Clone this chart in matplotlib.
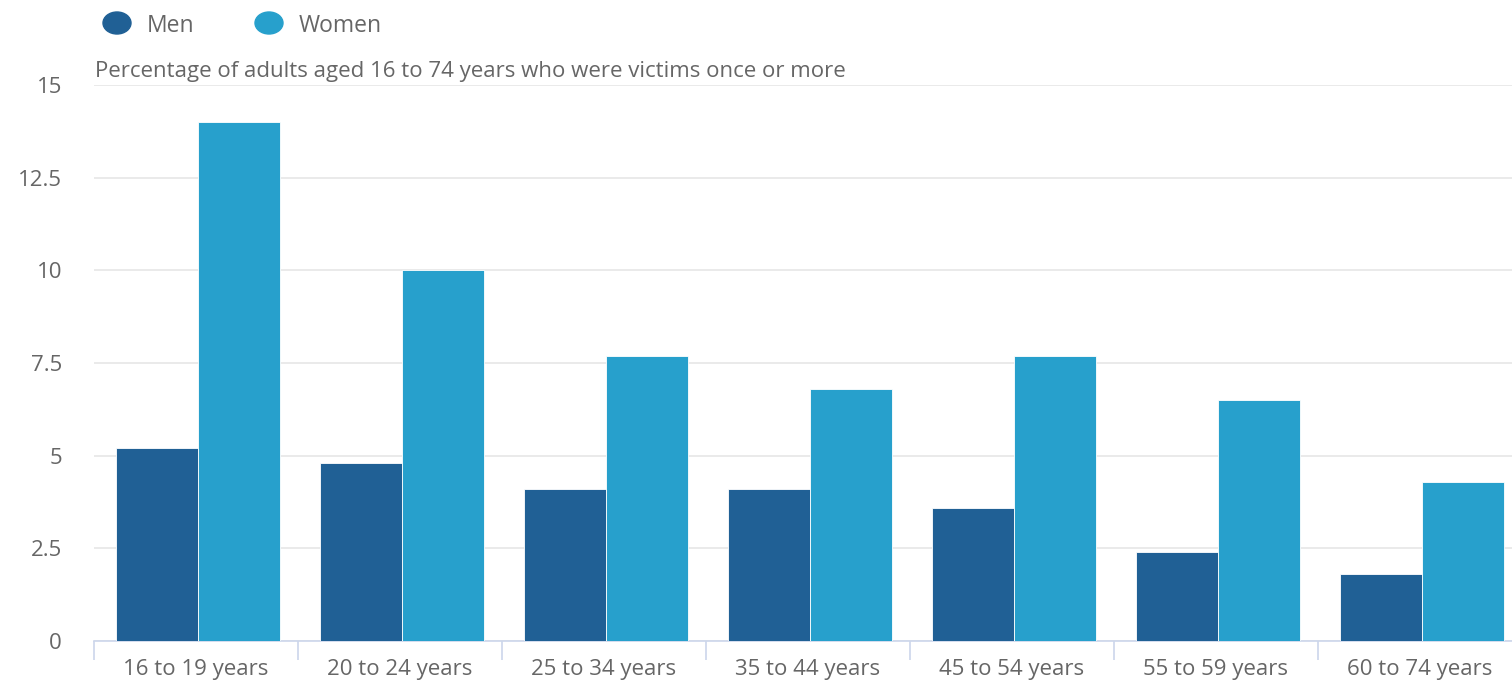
import matplotlib.pyplot as plt
import numpy as np
from matplotlib.patches import Ellipse
from matplotlib.ticker import FixedLocator

plt.rcParams["font.family"] = ["Open Sans", "DejaVu Sans"]

categories = ["16 to 19 years", "20 to 24 years", "25 to 34 years", "35 to 44 years",
              "45 to 54 years", "55 to 59 years", "60 to 74 years"]
men = [5.2, 4.8, 4.1, 4.1, 3.6, 2.4, 1.8]
women = [14.0, 10.0, 7.7, 6.8, 7.7, 6.5, 4.3]
y_ticks = [0, 2.5, 5, 7.5, 10, 12.5, 15]
y_labels = ["0", "2.5", "5", "7.5", "10", "12.5", "15"]
title = "Percentage of adults aged 16 to 74 years who were victims once or more"

MEN_C = "#206095"
WOMEN_C = "#27a0cc"
TXT = "#666666"

W, H = 1512, 681
fig = plt.figure(figsize=(W / 100, H / 100), dpi=100)
ax = fig.add_axes([94 / W, 40 / H, 1428 / W, 556 / H])

x = np.arange(len(categories))
bw = 0.4
ax.bar(x - bw / 2 + 0.01, men, width=bw, color=MEN_C, edgecolor="white", linewidth=0.6, zorder=3)
ax.bar(x + bw / 2 + 0.01, women, width=bw, color=WOMEN_C, edgecolor="white", linewidth=0.6, zorder=3)

ax.set_xlim(-0.5, len(categories) - 0.5)
ax.set_ylim(0, 15)
ax.set_yticks(y_ticks)
ax.set_yticklabels(y_labels)
ax.yaxis.grid(True, color="#e6e6e6", linewidth=1.2, zorder=0)
ax.tick_params(axis="y", length=0, pad=23, labelsize=16, labelcolor=TXT)

ax.set_xticks(x)
ax.set_xticklabels(categories)
ax.tick_params(axis="x", which="major", length=0, pad=13, labelsize=16, labelcolor=TXT)
ax.xaxis.set_minor_locator(FixedLocator(np.arange(-0.5, len(categories), 1.0)))
ax.tick_params(axis="x", which="minor", length=14, width=1.2, color="#ccd6eb")

for s in ["top", "right", "left"]:
    ax.spines[s].set_visible(False)
ax.spines["bottom"].set_color("#ccd6eb")
ax.spines["bottom"].set_linewidth(1.2)

# subtitle over the plot area
fig.text(95 / W, 1 - 71 / H, title, fontsize=16, color=TXT, va="center", ha="left")

# legend
for cx, tx, lab, col in [(117, 147, "Men", MEN_C), (269, 299, "Women", WOMEN_C)]:
    fig.add_artist(Ellipse((cx / W, 1 - 23 / H), 28 / W, 22 / H, color=col,
                           transform=fig.transFigure))
    fig.text(tx / W, 1 - 26 / H, lab, fontsize=16.5, color=TXT, va="center", ha="left")

fig.savefig("out.png", dpi=100)
